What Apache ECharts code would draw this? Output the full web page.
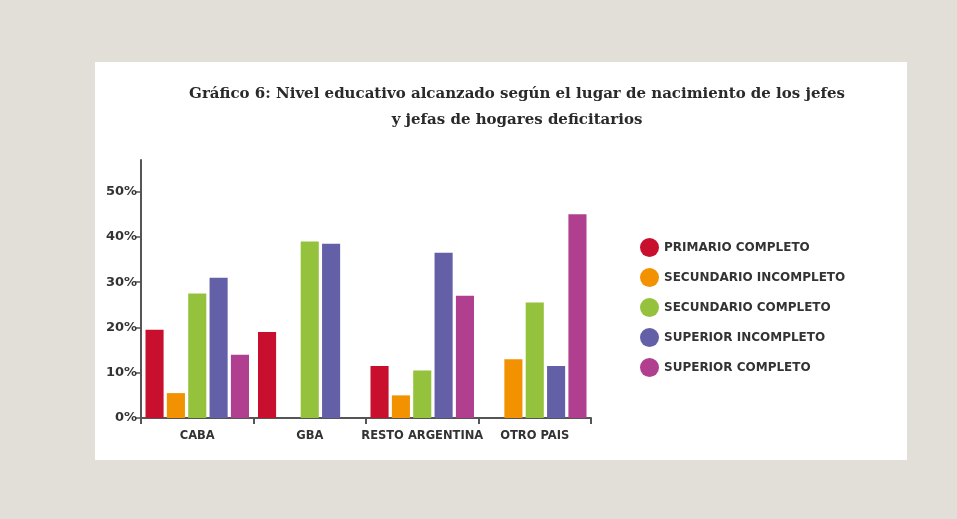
<!DOCTYPE html>
<html>
<head>
<meta charset="utf-8">
<script src="https://cdn.jsdelivr.net/npm/echarts@6/dist/echarts.min.js"></script>
<style>
html,body{margin:0;padding:0;background:#e2dfd8;}
#chart{width:957px;height:519px;}
</style>
</head>
<body>
<div id="chart"></div>
<script>
const categories = ['CABA', 'GBA', 'RESTO ARGENTINA', 'OTRO PAIS'];
const primarioCompleto = [19.5, 19, 11.5, null];
const secundarioIncompleto = [5.5, null, 5, 13];
const secundarioCompleto = [27.5, 39, 10.5, 25.5];
const superiorIncompleto = [31, 38.5, 36.5, 11.5];
const superiorCompleto = [14, null, 27, 45];
const yTicks = [0, 10, 20, 30, 40, 50];
const seriesNames = ['PRIMARIO COMPLETO', 'SECUNDARIO INCOMPLETO', 'SECUNDARIO COMPLETO', 'SUPERIOR INCOMPLETO', 'SUPERIOR COMPLETO'];
const seriesData = [primarioCompleto, secundarioIncompleto, secundarioCompleto, superiorIncompleto, superiorCompleto];
const colors = ['#c8102e', '#f39200', '#95c23d', '#6360a8', '#b0408f'];

const chart = echarts.init(document.getElementById('chart'));
chart.setOption({
  animation: false,
  color: colors,
  graphic: [{
    type: 'rect', left: 95, top: 62, z: -10,
    shape: {width: 812, height: 398},
    style: {fill: '#ffffff'}
  }],
  title: {
    text: 'Gráfico 6: Nivel educativo alcanzado según el lugar de nacimiento de los jefes\ny jefas de hogares deficitarios',
    left: 512, top: 76, textAlign: 'center',
    textStyle: {fontFamily: 'DejaVu Serif', fontWeight: 'bold', fontSize: 15, color: '#2a2a2a', lineHeight: 26}
  },
  legend: {
    orient: 'vertical', left: 635, top: 233,
    icon: 'circle', itemWidth: 19, itemHeight: 19, itemGap: 11,
    textStyle: {fontFamily: 'DejaVu Sans', fontWeight: 'bold', fontSize: 12, color: '#333'},
    data: seriesNames
  },
  grid: {left: 141, top: 160, width: 450, height: 258},
  xAxis: {
    type: 'category', data: categories,
    axisLine: {lineStyle: {color: '#555', width: 2}},
    axisTick: {show: true, interval: 0, alignWithLabel: false, length: 6, lineStyle: {color: '#555', width: 2}},
    axisLabel: {interval: 0, fontFamily: 'DejaVu Sans', fontWeight: 'bold', fontSize: 11.5, color: '#333', margin: 12}
  },
  yAxis: {
    type: 'value', min: 0, max: 57, interval: 10,
    axisLine: {show: true, lineStyle: {color: '#555', width: 2}},
    axisTick: {show: true, length: 6, customValues: yTicks, lineStyle: {color: '#555', width: 1.5}},
    axisLabel: {customValues: yTicks, formatter: '{value}%', fontFamily: 'DejaVu Sans', fontWeight: 'bold', fontSize: 13, color: '#333', margin: 4},
    splitLine: {show: false}
  },
  series: seriesNames.map((n, i) => ({
    name: n, type: 'bar', data: seriesData[i],
    barGap: '18%', barCategoryGap: '8%'
  }))
});
</script>
</body>
</html>
